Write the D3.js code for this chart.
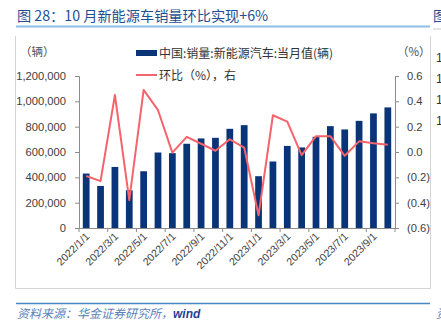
<!DOCTYPE html>
<html><head><meta charset="utf-8">
<script src="https://cdn.jsdelivr.net/npm/d3@7"></script>
<style>
html,body{margin:0;padding:0;background:#fff;}
svg{display:block;}
</style></head>
<body>
<svg id="c" width="441" height="321"></svg>
<script>
const months = ["2022/1/1","2022/2/1","2022/3/1","2022/4/1","2022/5/1","2022/6/1","2022/7/1","2022/8/1","2022/9/1","2022/10/1","2022/11/1","2022/12/1",
"2023/1/1","2023/2/1","2023/3/1","2023/4/1","2023/5/1","2023/6/1","2023/7/1","2023/8/1","2023/9/1","2023/10/1"];
const sales = [430000,332000,482000,298000,448000,596000,591000,665000,707000,712000,783000,812000,409000,525000,648000,636000,720000,804000,778000,846000,905000,952000];
const mom = [-0.19,-0.23,0.45,-0.38,0.49,0.33,-0.005,0.12,0.065,0.01,0.10,0.035,-0.50,0.29,0.24,-0.025,0.125,0.125,-0.03,0.084,0.07,0.058];
const leftTicks = [0,200000,400000,600000,800000,1000000,1200000];
const rightTicks = [-0.6,-0.4,-0.2,0,0.2,0.4,0.6];
const xLabels = ["2022/1/1","2022/3/1","2022/5/1","2022/7/1","2022/9/1","2022/11/1","2023/1/1","2023/3/1","2023/5/1","2023/7/1","2023/9/1"];
const titleText = "图 28：10 月新能源车销量环比实现+6%";
const legendBar = "中国:销量:新能源汽车:当月值(辆)";
const legendLine = "环比（%），右";

(function(){
const svg = d3.select("#c");
const cjk = "'Noto Sans CJK SC','Liberation Sans',sans-serif";
const num = "'Liberation Sans',Arial,sans-serif";

// Title
svg.append("text").attr("x",17).attr("y",21).attr("font-family",cjk).attr("font-size",14.2)
  .attr("fill","#1f4f93").text(titleText);
svg.append("line").attr("x1",16).attr("x2",430).attr("y1",26.5).attr("y2",26.5)
  .attr("stroke","#8fbde3").attr("stroke-width",2);

// frame
svg.append("path").attr("d","M15.5,36 V288.5 H430.5 V36").attr("fill","none").attr("stroke","#d4d4d4").attr("stroke-width",1);

const pTop=76, pBottom=228, pLeft=79, pRight=395;
const x = d3.scaleBand().domain(months).range([pLeft,pRight]).paddingInner(0.53).paddingOuter(0.265);
const yL = d3.scaleLinear().domain([0,1200000]).range([pBottom,pTop]);
const yR = d3.scaleLinear().domain([-0.6,0.6]).range([pBottom,pTop]);

// bars
svg.append("g").selectAll("rect").data(sales).join("rect")
  .attr("x",(d,i)=>x(months[i])).attr("width",x.bandwidth())
  .attr("y",d=>yL(d)).attr("height",d=>yL(0)-yL(d)).attr("fill","#0a3478");

// line
const line = d3.line().x((d,i)=>x(months[i])+x.bandwidth()/2).y(d=>yR(d));
svg.append("path").datum(mom).attr("d",line).attr("fill","none").attr("stroke","#f4646c").attr("stroke-width",2).attr("stroke-linejoin","round");

// left axis
const fmt = d3.format(",");
const axL = d3.axisLeft(yL).tickValues(leftTicks).tickFormat(fmt).tickSizeOuter(0).tickSize(4).tickPadding(9);
const gL = svg.append("g").attr("transform",`translate(${pLeft},0)`).call(axL);
gL.selectAll("text").attr("font-family",num).attr("font-size",11.2).attr("fill","#404040");
gL.selectAll("line,path").attr("stroke","#8c8c8c");

// right axis
const fmtR = d=> d<0 ? "("+Math.abs(d).toFixed(1)+")" : d.toFixed(1);
const axR = d3.axisRight(yR).tickValues(rightTicks).tickFormat(fmtR).tickSizeOuter(0).tickSize(4).tickPadding(8);
const gR = svg.append("g").attr("transform",`translate(${pRight},0)`).call(axR);
gR.selectAll("text").attr("font-family",num).attr("font-size",11.2).attr("fill","#404040");
gR.selectAll("line,path").attr("stroke","#8c8c8c");

// x axis
const step = x.step();
const tickIdx = d3.range(0,23,2);
const gX = svg.append("g");
gX.append("line").attr("x1",pLeft).attr("x2",pRight).attr("y1",pBottom+0.5).attr("y2",pBottom+0.5).attr("stroke","#8c8c8c");
gX.selectAll("line.t").data(tickIdx).join("line").attr("class","t")
  .attr("x1",d=>pLeft+d*step).attr("x2",d=>pLeft+d*step).attr("y1",pBottom).attr("y2",pBottom+4).attr("stroke","#8c8c8c");
gX.selectAll("text").data(xLabels).join("text")
  .attr("transform",d=>`translate(${x(d)+x.bandwidth()/2+4},${pBottom+9}) rotate(-45)`)
  .attr("text-anchor","end").attr("font-family",num).attr("font-size",10.6).attr("fill","#404040").text(d=>d);

// axis unit labels
svg.append("text").attr("x",20).attr("y",56).attr("font-family",cjk).attr("font-size",11.5).attr("fill","#505050").text("（辆）");
svg.append("text").attr("x",397).attr("y",56).attr("font-family",cjk).attr("font-size",11.5).attr("fill","#505050").text("（%）");

// legend
svg.append("rect").attr("x",136).attr("y",50).attr("width",21).attr("height",6).attr("fill","#0a3478");
svg.append("text").attr("x",159).attr("y",57.5).attr("font-family",cjk).attr("font-size",12).attr("fill","#333").text(legendBar);
svg.append("line").attr("x1",136).attr("x2",157).attr("y1",75).attr("y2",75).attr("stroke","#f4646c").attr("stroke-width",2);
svg.append("text").attr("x",159).attr("y",79.5).attr("font-family",cjk).attr("font-size",12).attr("fill","#333").text(legendLine);

// footer
svg.append("line").attr("x1",16).attr("x2",430).attr("y1",303.5).attr("y2",303.5).attr("stroke","#4a86c5").attr("stroke-width",1.5);
const ft = svg.append("text").attr("x",17).attr("y",317.5).attr("font-family",cjk).attr("font-size",12).attr("font-style","italic");
ft.append("tspan").attr("fill","#5a7fba").text("资料来源：华金证券研究所，");
ft.append("tspan").attr("fill","#1f3f94").attr("font-family",num).attr("font-weight","bold").text("wind");

// neighbouring panel fragments at right edge
svg.append("text").attr("x",433).attr("y",21).attr("font-family",cjk).attr("font-size",14).attr("fill","#1f4f93").text("图");
svg.append("line").attr("x1",433).attr("x2",441).attr("y1",29).attr("y2",29).attr("stroke","#c8c8c8");
[62,83,104,125].forEach(yy=>svg.append("text").attr("x",436).attr("y",yy).attr("font-family",num).attr("font-size",12).attr("fill","#333").text("1"));
svg.append("text").attr("x",436).attr("y",317.5).attr("font-family",cjk).attr("font-size",12).attr("font-style","italic").attr("fill","#5a7fba").text("资");
})();
</script>
</body></html>
